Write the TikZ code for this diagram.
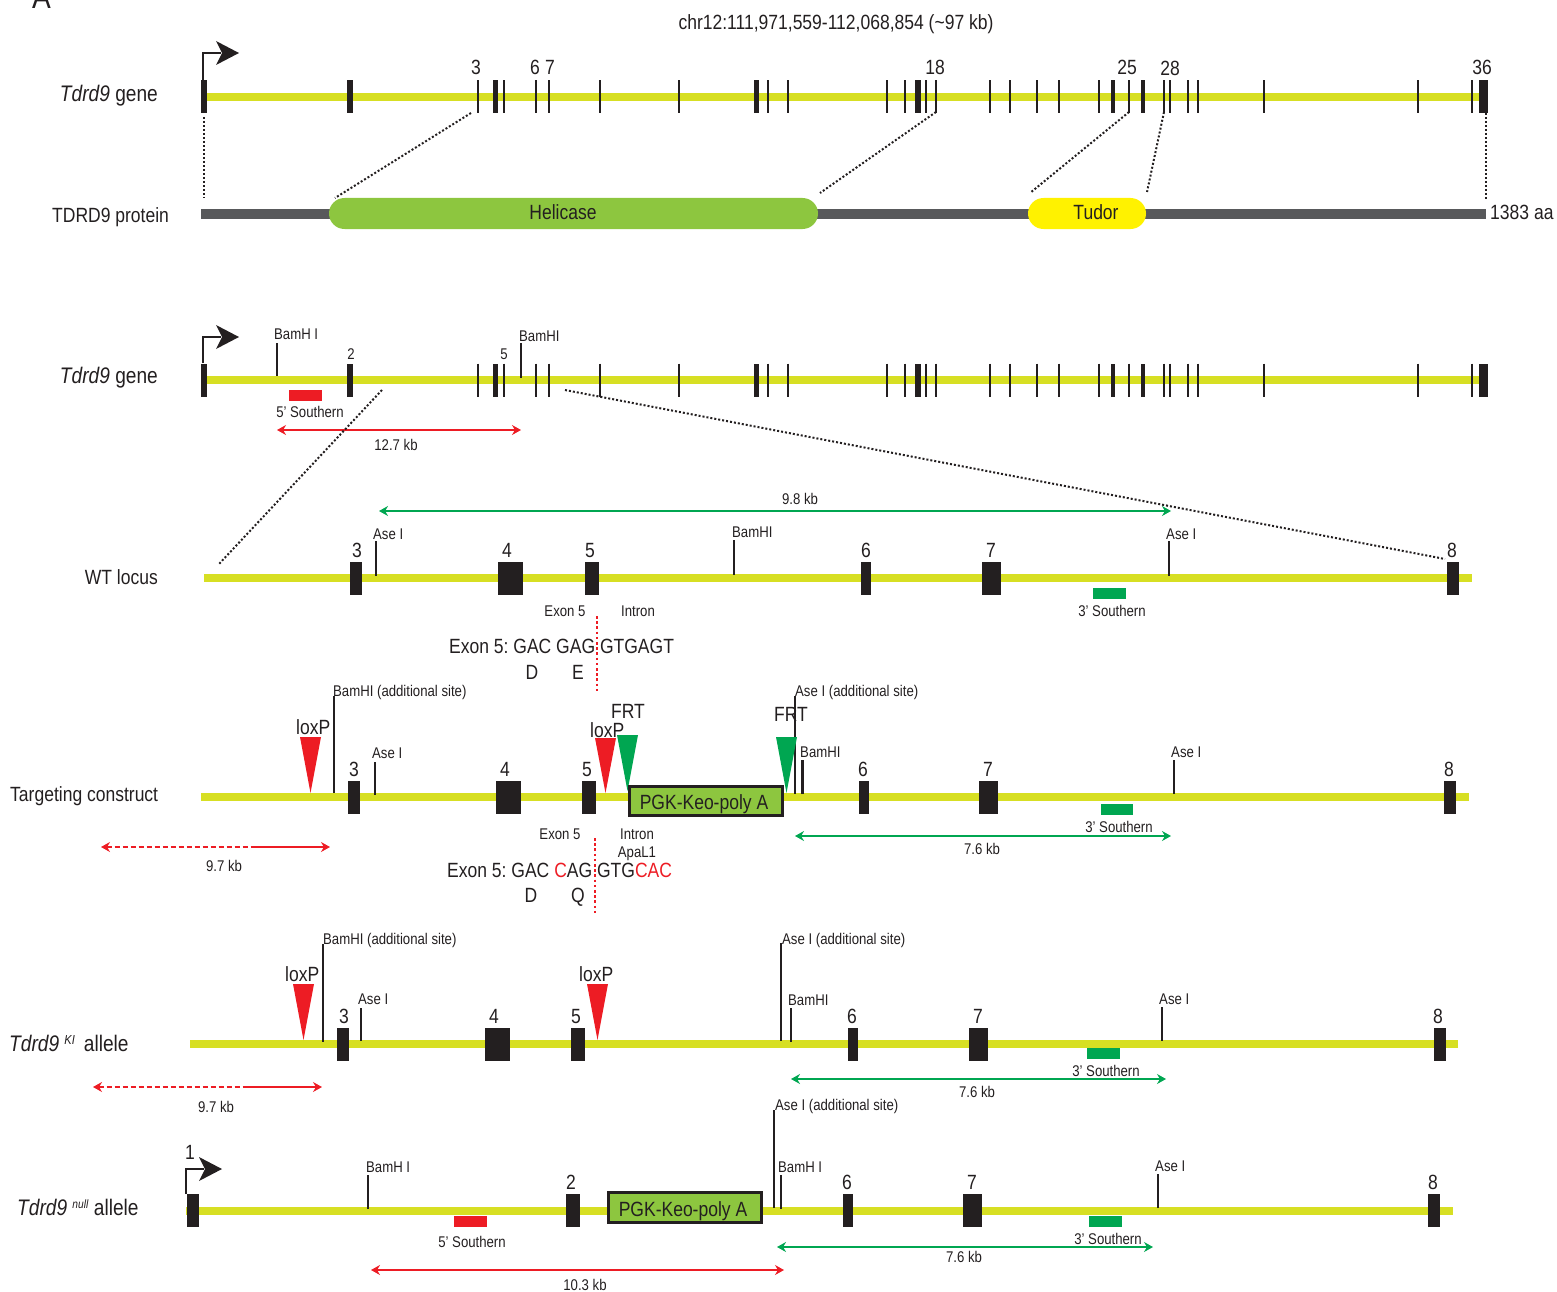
\documentclass[tikz,border=0pt]{standalone}
\usepackage{fontspec}
\setmainfont[FakeStretch=0.85]{Liberation Sans}
\usetikzlibrary{arrows.meta}
\frenchspacing
\definecolor{barcol}{HTML}{D7DF23}
\definecolor{ink}{HTML}{231F20}
\definecolor{redc}{HTML}{ED1C24}
\definecolor{greenc}{HTML}{00A651}
\definecolor{leaf}{HTML}{8DC63F}
\definecolor{sun}{HTML}{FFF200}
\definecolor{slate}{HTML}{58595B}
\tikzset{
  lab/.style={inner sep=0pt,text=ink,anchor=mid,font=\fontsize{20.6}{22}\selectfont,yshift=-4.6pt},
  labl/.style={lab,anchor=mid west},
  labr/.style={lab,anchor=mid east},
  genelab/.style={lab,font=\fontsize{22.5}{24}\selectfont},
  sm/.style={inner sep=0pt,text=ink,anchor=mid,font=\fontsize{15.5}{17}\selectfont,yshift=-2.4pt},
  sml/.style={sm,anchor=mid west},
  dots/.style={draw=ink,line width=2pt,dash pattern=on 2pt off 2pt},
  reddots/.style={draw=redc,line width=1.3pt,dash pattern=on 2.6pt off 2.6pt},
  sitetick/.style={draw=ink,line width=2.1pt},
  thin exon/.style={draw=ink,line width=2.2pt},
  redspan/.style={draw=redc,line width=1.2pt,{Stealth[length=9pt,width=10pt]}-{Stealth[length=9pt,width=10pt]}},
  greenspan/.style={draw=greenc,line width=1.2pt,{Stealth[length=9pt,width=10pt]}-{Stealth[length=9pt,width=10pt]}},
  cassette/.style={draw=ink,line width=2.8pt,fill=leaf,inner sep=0pt,rectangle},
}
\newcommand{\genebar}[3]{\fill[barcol] (#2,#1-4) rectangle (#3,#1+4);}
\newcommand{\exonbox}[3]{\fill[ink] (#1,#3-16.5) rectangle (#2,#3+16.5);}
\newcommand{\site}[3]{\draw[sitetick] (#1,#2) -- (#1,#3);}
\newcommand{\tss}[4]{% x, ybase, yelbow, tipx
  \draw[ink,line width=2pt] (#1,#2) -- (#1,#3) -- (#4-18,#3);
  \fill[ink] (#4,#3) -- (#4-23,#3-12) -- (#4-17,#3) -- (#4-23,#3+12) -- cycle;}
\newcommand{\tri}[5]{\fill[#1] (#2,#4) -- (#3,#4) -- ({(#2+#3)/2},#5) -- cycle;}
\newcommand{\fullgene}[1]{%
  \exonbox{201}{207}{#1}\exonbox{347}{353}{#1}\exonbox{493}{498}{#1}\exonbox{754}{758.5}{#1}
  \exonbox{915}{921}{#1}\exonbox{1111}{1115}{#1}\exonbox{1141}{1145}{#1}\exonbox{1479}{1488}{#1}
  \foreach \xx in {478,504,536,549,600,679,768,788,887,905,926,936,990,1010,1037,1059,1099,1129,1164,1170,1188,1198,1264,1418,1472}
    {\draw[thin exon] (\xx,#1-16.5) -- (\xx,#1+16.5);}
}
\begin{document}
\begin{tikzpicture}[x=1pt,y=-1pt]
\useasboundingbox (0,0) rectangle (1557,1292);
\node[inner sep=0pt,anchor=base,text=ink,font=\fontsize{33}{35}\selectfont] (panel) at (41.5,9) {A};
\node[lab] (chr) at (836,22) {chr12:111,971,559-112,068,854 (\textasciitilde97 kb)};

% ---------- gene 1
\genebar{97}{203}{1485}
\fullgene{97}
\tss{203}{80}{53}{239}
\node[genelab,anchor=mid east] (g1) at (158,94) {\textit{Tdrd9} gene};
\node[lab] (n3) at (476,67) {3};
\node[lab] (n6) at (535,67) {6};
\node[lab] (n7) at (550,67) {7};
\node[lab] (n18) at (935,67) {18};
\node[lab] (n25) at (1127,67) {25};
\node[lab] (n28) at (1170,68) {28};
\node[lab] (n36) at (1482,67) {36};

% ---------- protein
\fill[slate] (201,209) rectangle (1486,219);
\node[draw=none,fill=leaf,rounded corners=15.5pt,minimum width=489pt,minimum height=31pt,inner sep=0pt] (hel) at (573.5,213.5) {};
\node[draw=none,fill=sun,rounded corners=15.5pt,minimum width=118pt,minimum height=31pt,inner sep=0pt] (tud) at (1087,213.5) {};
\node[lab] (helt) at (563,212) {Helicase};
\node[lab] (tudt) at (1096,212) {Tudor};
\node[labl] (protl) at (52,215) {TDRD9 protein};
\node[labl] (aa) at (1490,212) {1383 aa};
\coordinate (d1a) at (204,117); \coordinate (d1b) at (204,198);
\coordinate (d2a) at (471,113); \coordinate (d2b) at (335,198);
\coordinate (d3a) at (936,112); \coordinate (d3b) at (820,193);
\coordinate (d4a) at (1129,112); \coordinate (d4b) at (1030,193);
\coordinate (d5a) at (1164,112); \coordinate (d5b) at (1147,192);
\coordinate (d6a) at (1486,113); \coordinate (d6b) at (1486,199);
\foreach \i in {1,...,6} {\draw[dots] (d\i a) -- (d\i b);}

% ---------- gene 2
\genebar{380}{203}{1485}
\fullgene{380}
\tss{203}{363}{337}{239}
\node[genelab,anchor=mid east] (g2) at (158,376) {\textit{Tdrd9} gene};
\site{277}{343}{376}
\node[sml] (b1) at (274,334) {BamH I};
\node[sm] (e2) at (351,354) {2};
\node[sm] (e5) at (504,354) {5};
\site{521}{343}{378}
\node[sml] (b2) at (519,336) {BamHI};
\fill[redc] (289,390) rectangle (322,401);
\node[sm] (s5a) at (310,412) {5' Southern};
\coordinate (r1a) at (277,430); \coordinate (r1b) at (521,430);
\draw[redspan] (r1a) -- (r1b);
\node[sm] (k127) at (396,445) {12.7 kb};

% ---------- WT locus
\genebar{578}{204}{1472}
\exonbox{350}{362}{578}\exonbox{498}{523}{578}\exonbox{585}{599}{578}
\exonbox{861}{871}{578}\exonbox{982}{1001}{578}\exonbox{1447}{1459}{578}
\node[labr] (wt) at (158,577) {WT locus};
\foreach \xx/\ll in {357/3,507/4,590/5,866/6,991/7,1452/8}
  {\node[lab] (wt\ll) at (\xx,550) {\ll};}
\site{376}{541}{576} \node[sml] (wa1) at (373,534) {Ase I};
\site{734}{540}{575} \node[sml] (wb) at (732,532) {BamHI};
\site{1169}{541}{576} \node[sml] (wa2) at (1166,534) {Ase I};
\fill[greenc] (1093,588) rectangle (1126,599);
\node[sm] (ws) at (1112,611) {3' Southern};
\coordinate (g1a) at (379,511); \coordinate (g1b) at (1171,511);
\draw[greenspan] (g1a) -- (g1b);
\node[sm] (k98) at (800,499) {9.8 kb};
\node[sm] (wex) at (565,611) {Exon 5};
\node[sm] (win) at (638,611) {Intron};
\coordinate (rd1a) at (597,616); \coordinate (rd1b) at (597,693);
\draw[reddots] (rd1a) -- (rd1b);
\node[labl] (wseq) at (449,646) {Exon 5: GAC GAG GTGAGT};
\node[lab] (wD) at (532,672) {D};
\node[lab] (wE) at (578,672) {E};
\coordinate (z1a) at (382,390); \coordinate (z1b) at (219,564);
\coordinate (z2a) at (565,390); \coordinate (z2b) at (1445,559);
\draw[dots] (z1a) -- (z1b);
\draw[dots] (z2a) -- (z2b);

% ---------- targeting construct
\genebar{797}{201}{1469}
\exonbox{348}{360}{797.5}\exonbox{496}{521}{797.5}\exonbox{582}{596}{797.5}
\exonbox{859}{869}{797.5}\exonbox{979}{998}{797.5}\exonbox{1444}{1456}{797.5}
\node[labl] (tc) at (10,794) {Targeting construct};
\foreach \xx/\ll in {354/3,505/4,587/5,863/6,988/7,1449/8}
  {\node[lab] (tc\ll) at (\xx,769) {\ll};}
\site{334}{696}{793} \node[sml] (tb) at (333,691) {BamHI (additional site)};
\tri{redc}{300}{321}{737}{793}
\node[labl] (tl1) at (296,727) {loxP};
\site{375}{762}{795} \node[sml] (ta1) at (372,753) {Ase I};
\site{795}{696}{794} \node[sml] (ta2) at (795,691) {Ase I (additional site)};
\tri{redc}{595}{616}{738}{793}
\tri{greenc}{617}{638}{735}{791}
\tri{greenc}{776}{797}{737}{793}
\node[labl] (tl2) at (590,730) {loxP};
\node[labl] (tf1) at (611,711) {FRT};
\node[labl] (tf2) at (774,714) {FRT};
\node[cassette,minimum width=153pt,minimum height=29pt] (pgk1) at (706.3,801) {};
\node[lab] (pgk1t) at (704,802) {PGK-Keo-poly A};
\site{802.5}{760}{794} \node[sml] (tb2) at (800,752) {BamHI};
\site{1174}{760}{794} \node[sml] (ta3) at (1171,752) {Ase I};
\fill[greenc] (1101,804) rectangle (1133,815);
\node[sm] (ts) at (1119,827) {3' Southern};
\coordinate (g2a) at (795,836); \coordinate (g2b) at (1171,836);
\draw[greenspan] (g2a) -- (g2b);
\node[sm] (k76a) at (982,849) {7.6 kb};
\coordinate (r2a) at (101,847); \coordinate (r2m) at (252,847); \coordinate (r2b) at (330,847);
\draw[draw=redc,line width=1.2pt,dash pattern=on 5pt off 3pt,{Stealth[length=9pt,width=10pt]}-] (r2a) -- (r2m);
\draw[draw=redc,line width=1.2pt,-{Stealth[length=9pt,width=10pt]}] (r2m) -- (r2b);
\node[sm] (k97a) at (224,866) {9.7 kb};
\node[sm] (tex) at (560,834) {Exon 5};
\node[sm] (tin) at (637,834) {Intron};
\node[sm] (tap) at (637,852) {ApaL1};
\coordinate (rd2a) at (595,838); \coordinate (rd2b) at (595,915);
\draw[reddots] (rd2a) -- (rd2b);
\node[labl] (tseq) at (447,870) {Exon 5: GAC \textcolor{redc}{C}AG GTG\textcolor{redc}{CAC}};
\node[lab] (tD) at (531,895) {D};
\node[lab] (tQ) at (578,895) {Q};

% ---------- KI allele
\genebar{1044}{190}{1458}
\exonbox{337}{349}{1044.5}\exonbox{485}{510}{1044.5}\exonbox{571}{585}{1044.5}
\exonbox{848}{858}{1044.5}\exonbox{969}{988}{1044.5}\exonbox{1434}{1446}{1044.5}
\node[genelab,anchor=mid west] (ki) at (9,1044) {\textit{Tdrd9} \raisebox{7pt}{\fontsize{13}{13}\selectfont\textit{KI}}\, allele};
\foreach \xx/\ll in {344/3,494/4,576/5,852/6,978/7,1438/8}
  {\node[lab] (ki\ll) at (\xx,1016) {\ll};}
\site{323}{944}{1042} \node[sml] (kb) at (323,939) {BamHI (additional site)};
\tri{redc}{293}{314}{984}{1040}
\node[labl] (kl1) at (285,974) {loxP};
\site{361}{1008}{1041} \node[sml] (ka1) at (358,999) {Ase I};
\tri{redc}{587}{608}{984}{1040}
\node[labl] (kl2) at (579,974) {loxP};
\site{781}{943}{1041} \node[sml] (ka2) at (782,939) {Ase I (additional site)};
\site{791}{1008}{1042} \node[sml] (kb2) at (788,1000) {BamHI};
\site{1162}{1007}{1041} \node[sml] (ka3) at (1159,999) {Ase I};
\fill[greenc] (1087,1048) rectangle (1120,1059);
\node[sm] (ks) at (1106,1071) {3' Southern};
\coordinate (g3a) at (791,1079); \coordinate (g3b) at (1166,1079);
\draw[greenspan] (g3a) -- (g3b);
\node[sm] (k76b) at (977,1092) {7.6 kb};
\coordinate (r3a) at (93,1087); \coordinate (r3m) at (245,1087); \coordinate (r3b) at (322,1087);
\draw[draw=redc,line width=1.2pt,dash pattern=on 5pt off 3pt,{Stealth[length=9pt,width=10pt]}-] (r3a) -- (r3m);
\draw[draw=redc,line width=1.2pt,-{Stealth[length=9pt,width=10pt]}] (r3m) -- (r3b);
\node[sm] (k97b) at (216,1107) {9.7 kb};

% ---------- null allele
\genebar{1211}{186}{1453}
\exonbox{187}{199}{1210.5}\exonbox{566}{580}{1210.5}
\exonbox{843}{853}{1210.5}\exonbox{963}{982}{1210.5}\exonbox{1428}{1440}{1210.5}
\tss{186}{1194}{1169}{222}
\node[genelab,anchor=mid west] (nu) at (17,1208) {\textit{Tdrd9} \raisebox{7pt}{\fontsize{12}{12}\selectfont\textit{null}} allele};
\node[lab] (nu1) at (190,1152) {1};
\foreach \xx/\ll in {571/2,847/6,972/7,1433/8}
  {\node[lab] (nu\ll) at (\xx,1182) {\ll};}
\site{368}{1175}{1209} \node[sml] (nb) at (366,1167) {BamH I};
\fill[redc] (454,1216) rectangle (487,1227);
\node[sm] (ns5) at (472,1242) {5' Southern};
\node[cassette,minimum width=153pt,minimum height=30pt] (pgk2) at (685,1207.5) {};
\node[lab] (pgk2t) at (683,1209) {PGK-Keo-poly A};
\site{774}{1110}{1208} \node[sml] (na) at (775,1105) {Ase I (additional site)};
\site{781}{1175}{1209} \node[sml] (nb2) at (778,1167) {BamH I};
\site{1158}{1174}{1208} \node[sml] (na2) at (1155,1166) {Ase I};
\fill[greenc] (1089,1216) rectangle (1122,1227);
\node[sm] (ns3) at (1108,1239) {3' Southern};
\coordinate (g4a) at (777,1247); \coordinate (g4b) at (1153,1247);
\draw[greenspan] (g4a) -- (g4b);
\node[sm] (k76c) at (964,1257) {7.6 kb};
\coordinate (r4a) at (371,1270); \coordinate (r4b) at (784,1270);
\draw[redspan] (r4a) -- (r4b);
\node[sm] (k103) at (585,1285) {10.3 kb};
\end{tikzpicture}
\end{document}
